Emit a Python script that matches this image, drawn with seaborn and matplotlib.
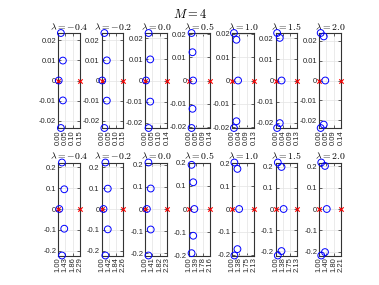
import matplotlib
matplotlib.use("Agg")
import numpy as np
import matplotlib.pyplot as plt
import seaborn as sns

sns.set_theme(style="whitegrid")
plt.rcParams["font.family"] = ["Liberation Sans", "DejaVu Sans"]
plt.rcParams["mathtext.fontset"] = "cm"

lambdas = [-0.4, -0.2, 0.0, 0.5, 1.0, 1.5, 2.0]

# top row: blue circles (real, imag), red crosses at both ends of the real range
top_re = [
    [0.003, 0.018, 0.018, 0.032, 0.032],
    [0.003, 0.018, 0.018, 0.035, 0.035],
    [0.005, 0.022, 0.022, 0.033, 0.033],
    [0.028, 0.018, 0.018, 0.024, 0.024],
    [0.035, 0.010, 0.010, 0.025, 0.025],
    [0.035, 0.008, 0.008, 0.024, 0.024],
    [0.039, 0.009, 0.009, 0.029, 0.029],
]
top_im = [
    [0, 0.0236, -0.0236, 0.0099, -0.0099],
    [0, 0.0236, -0.0236, 0.0100, -0.0100],
    [0, 0.0225, -0.0225, 0.0100, -0.0100],
    [0, 0.0205, -0.0205, 0.0122, -0.0122],
    [0, 0.0204, -0.0204, 0.0175, -0.0175],
    [0, 0.0224, -0.0224, 0.0201, -0.0201],
    [0, 0.0238, -0.0238, 0.0221, -0.0221],
]
top_xmin = [0, 0, 0, 0, 0, 0, 0]
top_xmax = [0.15, 0.15, 0.144, 0.14, 0.13, 0.13, 0.14]
top_xlabels = [
    ["0.00", "0.05", "0.10", "0.15"],
    ["0.00", "0.05", "0.10", "0.15"],
    ["0.00", "0.05", "0.10", "0.14"],
    ["0.00", "0.05", "0.09", "0.14"],
    ["0.00", "0.04", "0.09", "0.13"],
    ["0.00", "0.04", "0.09", "0.13"],
    ["0.00", "0.05", "0.09", "0.14"],
]
top_yticks = [-0.02, -0.01, 0, 0.01, 0.02]
top_ylabels = ["-0.02", "-0.01", "0", "0.01", "0.02"]

# bottom row
bot_re = [
    [1.06, 1.22, 1.22, 1.357, 1.357],
    [1.10, 1.21, 1.21, 1.35, 1.35],
    [1.09, 1.18, 1.18, 1.31, 1.31],
    [1.30, 1.15, 1.15, 1.24, 1.24],
    [1.36, 1.11, 1.11, 1.27, 1.27],
    [1.41, 1.106, 1.106, 1.30, 1.30],
    [1.42, 1.11, 1.11, 1.32, 1.32],
]
bot_im = [
    [0, 0.224, -0.224, 0.095, -0.095],
    [0, 0.224, -0.224, 0.098, -0.098],
    [0, 0.211, -0.211, 0.093, -0.093],
    [0, 0.190, -0.190, 0.115, -0.115],
    [0, 0.204, -0.204, 0.176, -0.176],
    [0, 0.220, -0.220, 0.199, -0.199],
    [0, 0.218, -0.218, 0.202, -0.202],
]
bot_xmin = [1.0, 1.0, 1.0, 1.0, 1.0, 1.0, 1.0]
bot_xmax = [2.29, 2.26, 2.23, 2.165, 2.13, 2.13, 2.21]
bot_xlabels = [
    ["1.00", "1.43", "1.86", "2.29"],
    ["1.00", "1.42", "1.84", "2.26"],
    ["1.00", "1.41", "1.82", "2.23"],
    ["1.00", "1.39", "1.78", "2.16"],
    ["1.00", "1.38", "1.75", "2.13"],
    ["1.00", "1.38", "1.75", "2.13"],
    ["1.00", "1.40", "1.80", "2.21"],
]
bot_yticks = [-0.2, -0.1, 0, 0.1, 0.2]
bot_ylabels = ["-0.2", "-0.1", "0", "0.1", "0.2"]

W, H = 379, 285
fig = plt.figure(figsize=(W / 100, H / 100), dpi=100)
fig.patch.set_facecolor("white")

rows = [
    (top_re, top_im, top_xmin, top_xmax, top_xlabels, top_yticks, top_ylabels, 33, 128),
    (bot_re, bot_im, bot_xmin, bot_xmax, bot_xlabels, bot_yticks, bot_ylabels, 162.5, 255.5),
]

for re_, im_, xmin, xmax, xlabels, yticks, ylabels, ytop, ybot in rows:
    for j, lam in enumerate(lambdas):
        left = 58.3 + 43.5 * j
        ax = fig.add_axes([left / W, 1 - ybot / H, 21.5 / W, (ybot - ytop) / H])
        ax.set_facecolor("white")
        sns.scatterplot(x=[xmin[j], xmax[j]], y=[0, 0], ax=ax, marker="x",
                        color="red", s=10, linewidth=0.8, clip_on=False, zorder=3)
        sns.scatterplot(x=re_[j], y=im_[j], ax=ax, marker="o", s=24,
                        facecolor="none", edgecolor="blue", linewidth=0.7,
                        clip_on=False, zorder=4)
        ax.set_xlim(xmin[j], xmax[j])
        ymax = max(abs(v) for v in im_[j])
        ax.set_ylim(-ymax, ymax)
        ax.set_xticks(np.linspace(xmin[j], xmax[j], 4))
        ax.set_xticklabels(xlabels[j], rotation=90)
        ax.set_yticks(yticks)
        ax.set_yticklabels(ylabels)
        ax.tick_params(axis="both", labelsize=5.5, length=2, width=0.5,
                       direction="in", pad=1.5, colors="#262626",
                       top=True, right=True, bottom=True, left=True)
        ax.grid(True, color="#e3e3e3", linewidth=0.5)
        for sp in ax.spines.values():
            sp.set_visible(True)
            sp.set_color("#333333")
            sp.set_linewidth(0.8)
        ax.set_title(r"$\boldsymbol{\lambda = %.1f}$" % lam,
                     fontsize=7, pad=2.5, color="black")

fig.text(190 / W, 1 - 14 / H, r"$M = 4$", fontsize=9, ha="center", va="center",
         color="black")

fig.savefig("out.png", dpi=100, facecolor="white")
